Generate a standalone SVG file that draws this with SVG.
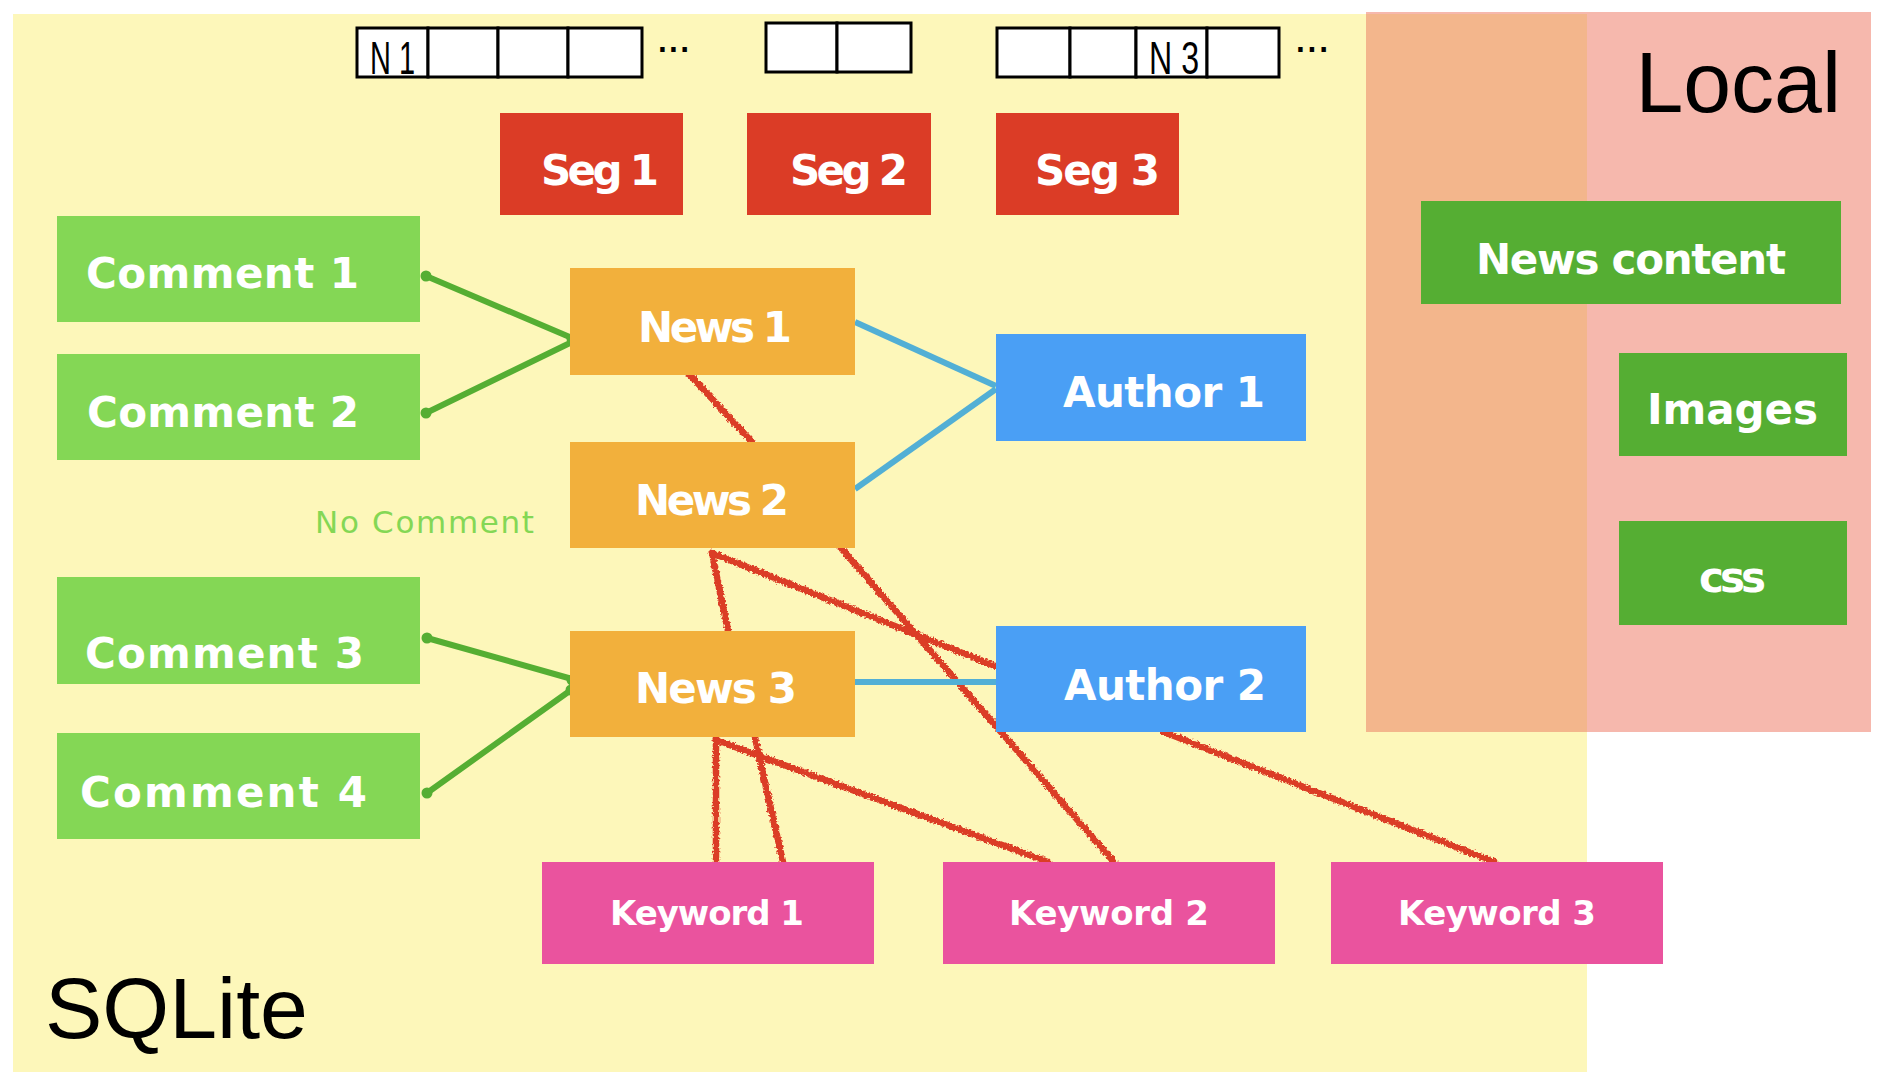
<svg xmlns="http://www.w3.org/2000/svg" width="1892" height="1090" viewBox="0 0 1892 1090">
<defs>
<style>
.lbl{font-family:"DejaVu Sans","Open Sans",sans-serif;font-weight:bold;fill:#ffffff;}
.big{font-family:"Liberation Sans",Arial,sans-serif;fill:#000000;font-size:86px;}
.cell{fill:#ffffff;stroke:#000000;stroke-width:3;}
.ctext{font-family:"Liberation Sans",Arial,sans-serif;font-size:46px;fill:#000000;}
.seg{fill:#DB3C26;}
.comment{fill:#84D755;}
.news{fill:#F2B03C;}
.author{fill:#4A9FF5;}
.keyword{fill:#EA539E;}
.local{fill:#55AE33;}
.g{stroke:#55AE33;stroke-width:6;fill:none;stroke-linecap:round;}
.gd{fill:#55AE33;}
.b{stroke:#52AFD5;stroke-width:6;fill:none;}
.r{stroke:#DB3C26;stroke-width:6.5;fill:none;stroke-linecap:round;}
</style>
<filter id="rough" filterUnits="userSpaceOnUse" x="0" y="0" width="1892" height="1090">
<feTurbulence type="fractalNoise" baseFrequency="0.45" numOctaves="2" seed="3" result="n"/>
<feDisplacementMap in="SourceGraphic" in2="n" scale="5" xChannelSelector="R" yChannelSelector="G"/>
</filter>
</defs>
<rect width="1892" height="1090" fill="#ffffff"/>

<g id="sqlite-area">
<rect x="13" y="14" width="1574" height="1058" fill="#FDF7BA"/>
<text class="big" x="45" y="1038">SQLite</text>
</g>

<g id="local-area">
<rect x="1366" y="12" width="505" height="720" fill="#F6B8AD"/>
<rect x="1366" y="14" width="221" height="718" fill="#F3B68C"/>
<text class="big" x="1841" y="112" text-anchor="end">Local</text>
</g>

<g id="array1">
<rect class="cell" x="357" y="28" width="71" height="49"/>
<rect class="cell" x="428" y="28" width="70" height="49"/>
<rect class="cell" x="498" y="28" width="70" height="49"/>
<rect class="cell" x="568" y="28" width="74" height="49"/>
<text class="ctext" x="370" y="74" textLength="45" lengthAdjust="spacingAndGlyphs">N 1</text>
<text class="ctext" x="656" y="52" font-size="28" textLength="35">...</text>
</g>
<g id="array2">
<rect class="cell" x="766" y="23" width="71" height="49"/>
<rect class="cell" x="837" y="23" width="74" height="49"/>
</g>
<g id="array3">
<rect class="cell" x="997" y="28" width="73" height="49"/>
<rect class="cell" x="1070" y="28" width="66" height="49"/>
<rect class="cell" x="1136" y="28" width="71" height="49"/>
<rect class="cell" x="1207" y="28" width="72" height="49"/>
<text class="ctext" x="1149" y="74" textLength="50" lengthAdjust="spacingAndGlyphs">N 3</text>
<text class="ctext" x="1294" y="52" font-size="28" textLength="36">...</text>
</g>

<g id="connectors">
<g id="red-links" filter="url(#rough)">
<path class="r" d="M690,375 L752,442"/>
<path class="r" d="M712,553 L728,631"/>
<path class="r" d="M712,553 L995,666"/>
<path class="r" d="M841,548 L1114,862"/>
<path class="r" d="M716,738 L716,862"/>
<path class="r" d="M755,738 L783,862"/>
<path class="r" d="M716,740 L1048,862"/>
<path class="r" d="M1164,732 L1494,862"/>
</g>
<g id="green-links">
<path class="g" d="M426,276 L572,338"/>
<path class="g" d="M426,413 L572,342"/>
<path class="g" d="M427,638 L572,679"/>
<path class="g" d="M427,793 L571,690"/>
<circle class="gd" cx="426" cy="276" r="5.5"/>
<circle class="gd" cx="426" cy="413" r="5.5"/>
<circle class="gd" cx="572" cy="339" r="5.5"/>
<circle class="gd" cx="427" cy="638" r="5.5"/>
<circle class="gd" cx="427" cy="793" r="5.5"/>
<circle class="gd" cx="572" cy="680" r="5.5"/>
<circle class="gd" cx="571" cy="690" r="5.5"/>
</g>
<g id="blue-links">
<path class="b" d="M855,322 L996,386"/>
<path class="b" d="M855,489 L996,389"/>
<path class="b" d="M855,682 L996,682"/>
</g>
</g>

<g id="seg1"><rect class="seg" x="500" y="113" width="183" height="102"/><text class="lbl" x="541" y="185" font-size="42" textLength="118">Seg 1</text></g>
<g id="seg2"><rect class="seg" x="747" y="113" width="184" height="102"/><text class="lbl" x="790" y="185" font-size="42" textLength="118">Seg 2</text></g>
<g id="seg3"><rect class="seg" x="996" y="113" width="183" height="102"/><text class="lbl" x="1035" y="185" font-size="42" textLength="125">Seg 3</text></g>

<g id="comment1"><rect class="comment" x="57" y="216" width="363" height="106"/><text class="lbl" x="86" y="288" font-size="42" textLength="273">Comment 1</text></g>
<g id="comment2"><rect class="comment" x="57" y="354" width="363" height="106"/><text class="lbl" x="87" y="427" font-size="42" textLength="272">Comment 2</text></g>
<g id="comment3"><rect class="comment" x="57" y="577" width="363" height="107"/><text class="lbl" x="85" y="668" font-size="42" textLength="279">Comment 3</text></g>
<g id="comment4"><rect class="comment" x="57" y="733" width="363" height="106"/><text class="lbl" x="80" y="807" font-size="42" textLength="287">Comment 4</text></g>

<g id="no-comment"><text x="315" y="533" font-family="DejaVu Sans, Open Sans, sans-serif" font-size="31" fill="#84D755" textLength="219">No Comment</text></g>

<g id="news1"><rect class="news" x="570" y="268" width="285" height="107"/><text class="lbl" x="638" y="342" font-size="42" textLength="154">News 1</text></g>
<g id="news2"><rect class="news" x="570" y="442" width="285" height="106"/><text class="lbl" x="635" y="515" font-size="42" textLength="154">News 2</text></g>
<g id="news3"><rect class="news" x="570" y="631" width="285" height="106"/><text class="lbl" x="635" y="703" font-size="42" textLength="162">News 3</text></g>

<g id="author1"><rect class="author" x="996" y="334" width="310" height="107"/><text class="lbl" x="1063" y="407" font-size="42" textLength="202">Author 1</text></g>
<g id="author2"><rect class="author" x="996" y="626" width="310" height="106"/><text class="lbl" x="1064" y="700" font-size="42" textLength="202">Author 2</text></g>

<g id="keyword1"><rect class="keyword" x="542" y="862" width="332" height="102"/><text class="lbl" x="610" y="925" font-size="34" textLength="194">Keyword 1</text></g>
<g id="keyword2"><rect class="keyword" x="943" y="862" width="332" height="102"/><text class="lbl" x="1009" y="925" font-size="34" textLength="200">Keyword 2</text></g>
<g id="keyword3"><rect class="keyword" x="1331" y="862" width="332" height="102"/><text class="lbl" x="1398" y="925" font-size="34" textLength="198">Keyword 3</text></g>

<g id="news-content"><rect class="local" x="1421" y="201" width="420" height="103"/><text class="lbl" x="1476" y="274" font-size="42" textLength="310">News content</text></g>
<g id="images"><rect class="local" x="1619" y="353" width="228" height="103"/><text class="lbl" x="1647" y="424" font-size="42" textLength="171">Images</text></g>
<g id="css"><rect class="local" x="1619" y="521" width="228" height="104"/><text class="lbl" x="1699" y="592" font-size="42" textLength="67">css</text></g>
</svg>
